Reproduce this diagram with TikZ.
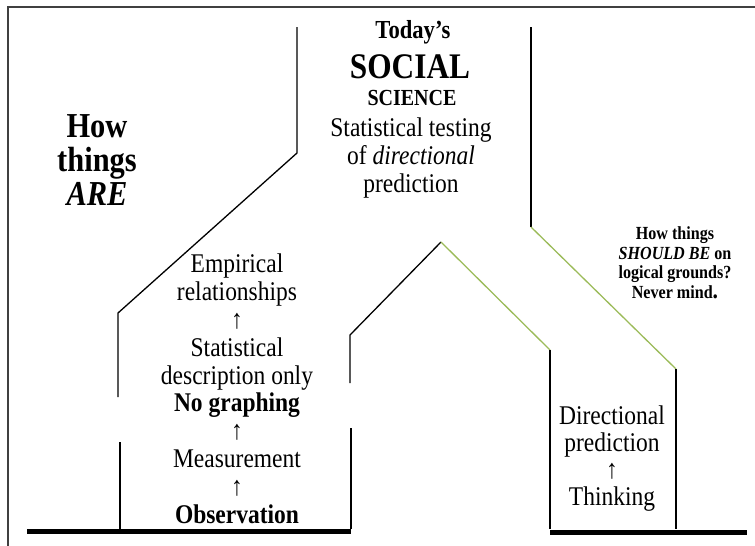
\documentclass[tikz,border=0pt]{standalone}
\usepackage{fontspec}
\setmainfont{Liberation Serif}[FakeStretch=0.87]
\definecolor{roofgreen}{RGB}{155,187,89}
\definecolor{framegray}{RGB}{64,64,64}

\begin{document}
\begin{tikzpicture}[x=1pt,y=1pt,
  wall/.style={black,line width=1.3pt},
  roof/.style={roofgreen,line width=1.3pt},
  ground/.style={black,line width=5pt},
  label/.style={align=center,anchor=base},
  body/.style={label,font=\fontsize{27}{27.8}\selectfont},
  heading/.style 2 args={label,font=\bfseries\fontsize{#1}{#2}\selectfont}]
\tikzstyle{every node}+=[inner sep=0pt]
\useasboundingbox (0,0) rectangle (755,-546);
% frame
\draw [framegray,line width=1.5pt] (8,-546) -- (8,-7) -- (755,-7);
% left house
\draw [wall] (297,-27) -- (297,-153) -- (118,-313) -- (118,-397);
\draw [wall] (120,-442) -- (120,-529);
\draw [wall] (351,-428) -- (351,-529);
\draw [ground] (27,-531) -- (351,-531);
% middle roof
\draw [wall] (350,-383) -- (350,-335) -- (441,-242);
\draw [roof] (441,-242) -- (550,-350);
% right house
\draw [wall] (550,-350) -- (550,-529);
\draw [wall] (531,-27) -- (531,-227);
\draw [roof] (531,-227) -- (676,-369);
\draw [wall] (676,-369) -- (676,-529);
\draw [ground] (550,-532) -- (747,-532);
% texts (base = last line)
\node (today) [heading={26}{30}] at (413,-38) {Today’s};
\node (social) [heading={36}{40}] at (410,-78) {SOCIAL};
\node (science) [heading={23}{26}] at (412,-105) {SCIENCE};
\node (testing) [body] at (411,-192) {Statistical testing\\of \textit{directional}\\prediction};
\node (are) [heading={35}{34}] at (97,-205) {How\\things\\\textit{ARE}};
\node (empirical) [body] at (237,-523) {Empirical\\relationships\\↑\\Statistical\\description only\\\textbf{No graphing}\\↑\\Measurement\\↑\\\textbf{Observation}};
\node (thinking) [body,font=\fontsize{27}{26.7}\selectfont] at (612,-505) {Directional\\prediction\\↑\\Thinking};
\node (shouldbe) [heading={18.5}{19.5}] at (675,-298) {How things\\\textit{SHOULD BE} on\\logical grounds?\\Never mind\smash{\fontsize{25}{0}\selectfont .}};
\end{tikzpicture}
\end{document}
